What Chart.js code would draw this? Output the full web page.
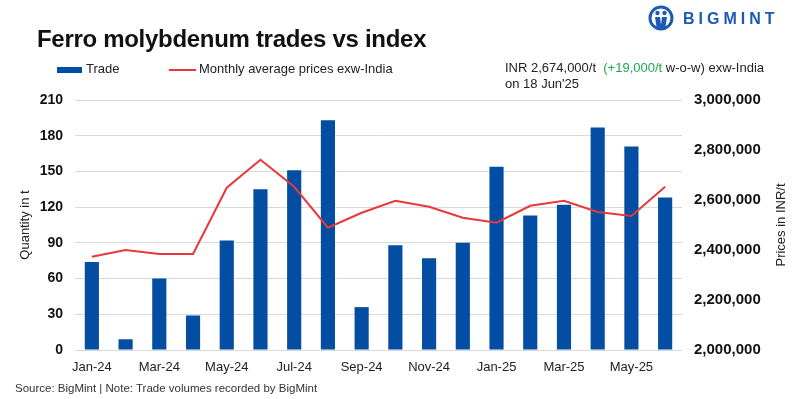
<!DOCTYPE html>
<html>
<head>
<meta charset="utf-8">
<script src="https://cdn.jsdelivr.net/npm/chart.js@4.4.1/dist/chart.umd.min.js"></script>
<style>
  body { margin: 0; background: #fff; font-family: "Liberation Sans", Arial, sans-serif; }
  #wrap { position: relative; width: 800px; height: 399px; overflow: hidden; }
  #chart { position: absolute; left: 0; top: 0; }
  .abs { position: absolute; white-space: nowrap; color: #222; }
  #title { left: 37px; top: 25px; font-size: 24px; font-weight: bold; color: #111; letter-spacing: -0.3px; }
  #legend { left: 57px; top: 61px; font-size: 13px; }
  #legend span { position: absolute; }
  #note { left: 505px; top: 60px; font-size: 13px; line-height: 16px; }
  #note .g { color: #1fa84f; }
  #source { left: 15px; top: 382px; font-size: 11.5px; color: #333; }
  #logo { left: 648px; top: 5px; width: 150px; height: 28px; }
  #logo .txt { position: absolute; left: 35px; top: 5px; font-size: 16px; font-weight: bold; color: #1d5ab4; letter-spacing: 4px; }
</style>
</head>
<body>
<div id="wrap">
  <canvas id="chart" width="800" height="399"></canvas>
  <div class="abs" id="title">Ferro molybdenum trades vs index</div>
  <div class="abs" id="legend">
    <span style="left:0;top:6px;width:25px;height:6px;background:#034ea2"></span>
    <span style="left:29px;top:0">Trade</span>
    <span style="left:112px;top:8px;width:27px;height:2px;background:#e8383b"></span>
    <span style="left:142px;top:0">Monthly average prices exw-India</span>
  </div>
  <div class="abs" id="note">INR 2,674,000/t&nbsp; <span class="g">(+19,000/t</span> w-o-w) exw-India<br>on 18 Jun'25</div>
  <div class="abs" id="source">Source: BigMint | Note: Trade volumes recorded by BigMint</div>
  <div class="abs" id="logo">
    <svg width="28" height="28" viewBox="0 0 28 28">
      <circle cx="13" cy="13" r="11" fill="none" stroke="#1d5ab4" stroke-width="3"/>
      <circle cx="9.5" cy="8" r="2.2" fill="#1d5ab4"/>
      <circle cx="16.5" cy="8" r="2.2" fill="#1d5ab4"/>
      <path d="M7 12 L12 12 L13 20 L14 12 L19 12 L17 25 L9 25 Z" fill="#1d5ab4"/>
    </svg>
    <div class="txt">BIGMINT</div>
  </div>
</div>
<script>
const months = ['Jan-24','Feb-24','Mar-24','Apr-24','May-24','Jun-24','Jul-24','Aug-24','Sep-24','Oct-24','Nov-24','Dec-24',
                'Jan-25','Feb-25','Mar-25','Apr-25','May-25','Jun-25'];
const tradeQty = [74, 9, 60, 29, 92, 135, 151, 193, 36, 88, 77, 90, 154, 113, 122, 187, 171, 128];
const avgPrice = [2373000, 2400000, 2384000, 2384000, 2649000, 2761000, 2653000, 2489000, 2549000, 2597000, 2573000, 2529000,
                  2509000, 2577000, 2597000, 2552000, 2536000, 2653000];
const qtyTicks = [0, 30, 60, 90, 120, 150, 180, 210];
const priceTicks = [2000000, 2200000, 2400000, 2600000, 2800000, 3000000];

const tickFont = { family: '"Liberation Sans", Arial, sans-serif', size: 14, weight: 'bold' };
const textFont = { family: '"Liberation Sans", Arial, sans-serif', size: 13 };

// right axis title reads bottom-to-top like the left one
const rightTitle = {
  id: 'rightTitle',
  afterDraw(chart) {
    const { ctx, chartArea, scales } = chart;
    const x = scales.y1.right - 7;
    const y = (chartArea.top + chartArea.bottom) / 2;
    ctx.save();
    ctx.translate(x, y);
    ctx.rotate(-Math.PI / 2);
    ctx.font = '13px "Liberation Sans", Arial, sans-serif';
    ctx.fillStyle = '#222';
    ctx.textAlign = 'center';
    ctx.textBaseline = 'middle';
    ctx.fillText('Prices in INR/t', 0, 0);
    ctx.restore();
  }
};

new Chart(document.getElementById('chart'), {
  type: 'bar',
  data: {
    labels: months,
    datasets: [
      {
        type: 'line',
        label: 'Monthly average prices exw-India',
        data: avgPrice,
        yAxisID: 'y1',
        borderColor: '#e8383b',
        borderWidth: 2,
        pointRadius: 0,
        tension: 0,
        order: 0
      },
      {
        label: 'Trade',
        data: tradeQty,
        yAxisID: 'y',
        backgroundColor: '#034ea2',
        barPercentage: 0.42,
        categoryPercentage: 1,
        order: 1
      }
    ]
  },
  options: {
    responsive: false,
    animation: false,
    layout: { padding: { left: 14, right: 12, top: 100, bottom: 24 } },
    plugins: { legend: { display: false }, tooltip: { enabled: false } },
    scales: {
      x: {
        grid: { display: false },
        border: { display: false },
        ticks: {
          autoSkip: false, maxRotation: 0, color: '#222', font: textFont, padding: 2,
          callback: (v, i) => i % 2 === 0 ? months[i] : ''
        },
        afterFit: s => { s.height = 25; }
      },
      y: {
        position: 'left',
        min: 0, max: 210,
        afterBuildTicks: s => { s.ticks = qtyTicks.map(v => ({ value: v })); },
        grid: { color: '#d9d9d9', drawTicks: false },
        border: { display: false },
        ticks: { color: '#111', font: tickFont, padding: 12 },
        title: { display: true, text: 'Quantity in t', color: '#222', font: textFont, padding: 4 },
        afterFit: s => { s.width = 61; }
      },
      y1: {
        position: 'right',
        min: 2000000, max: 3000000,
        afterBuildTicks: s => { s.ticks = priceTicks.map(v => ({ value: v })); },
        grid: { display: false },
        border: { display: false },
        ticks: { color: '#111', font: { ...tickFont, size: 15 }, padding: 4, callback: v => v.toLocaleString('en-US') },
        afterFit: s => { s.width = 106; }
      }
    }
  },
  plugins: [rightTitle]
});
</script>
</body>
</html>
